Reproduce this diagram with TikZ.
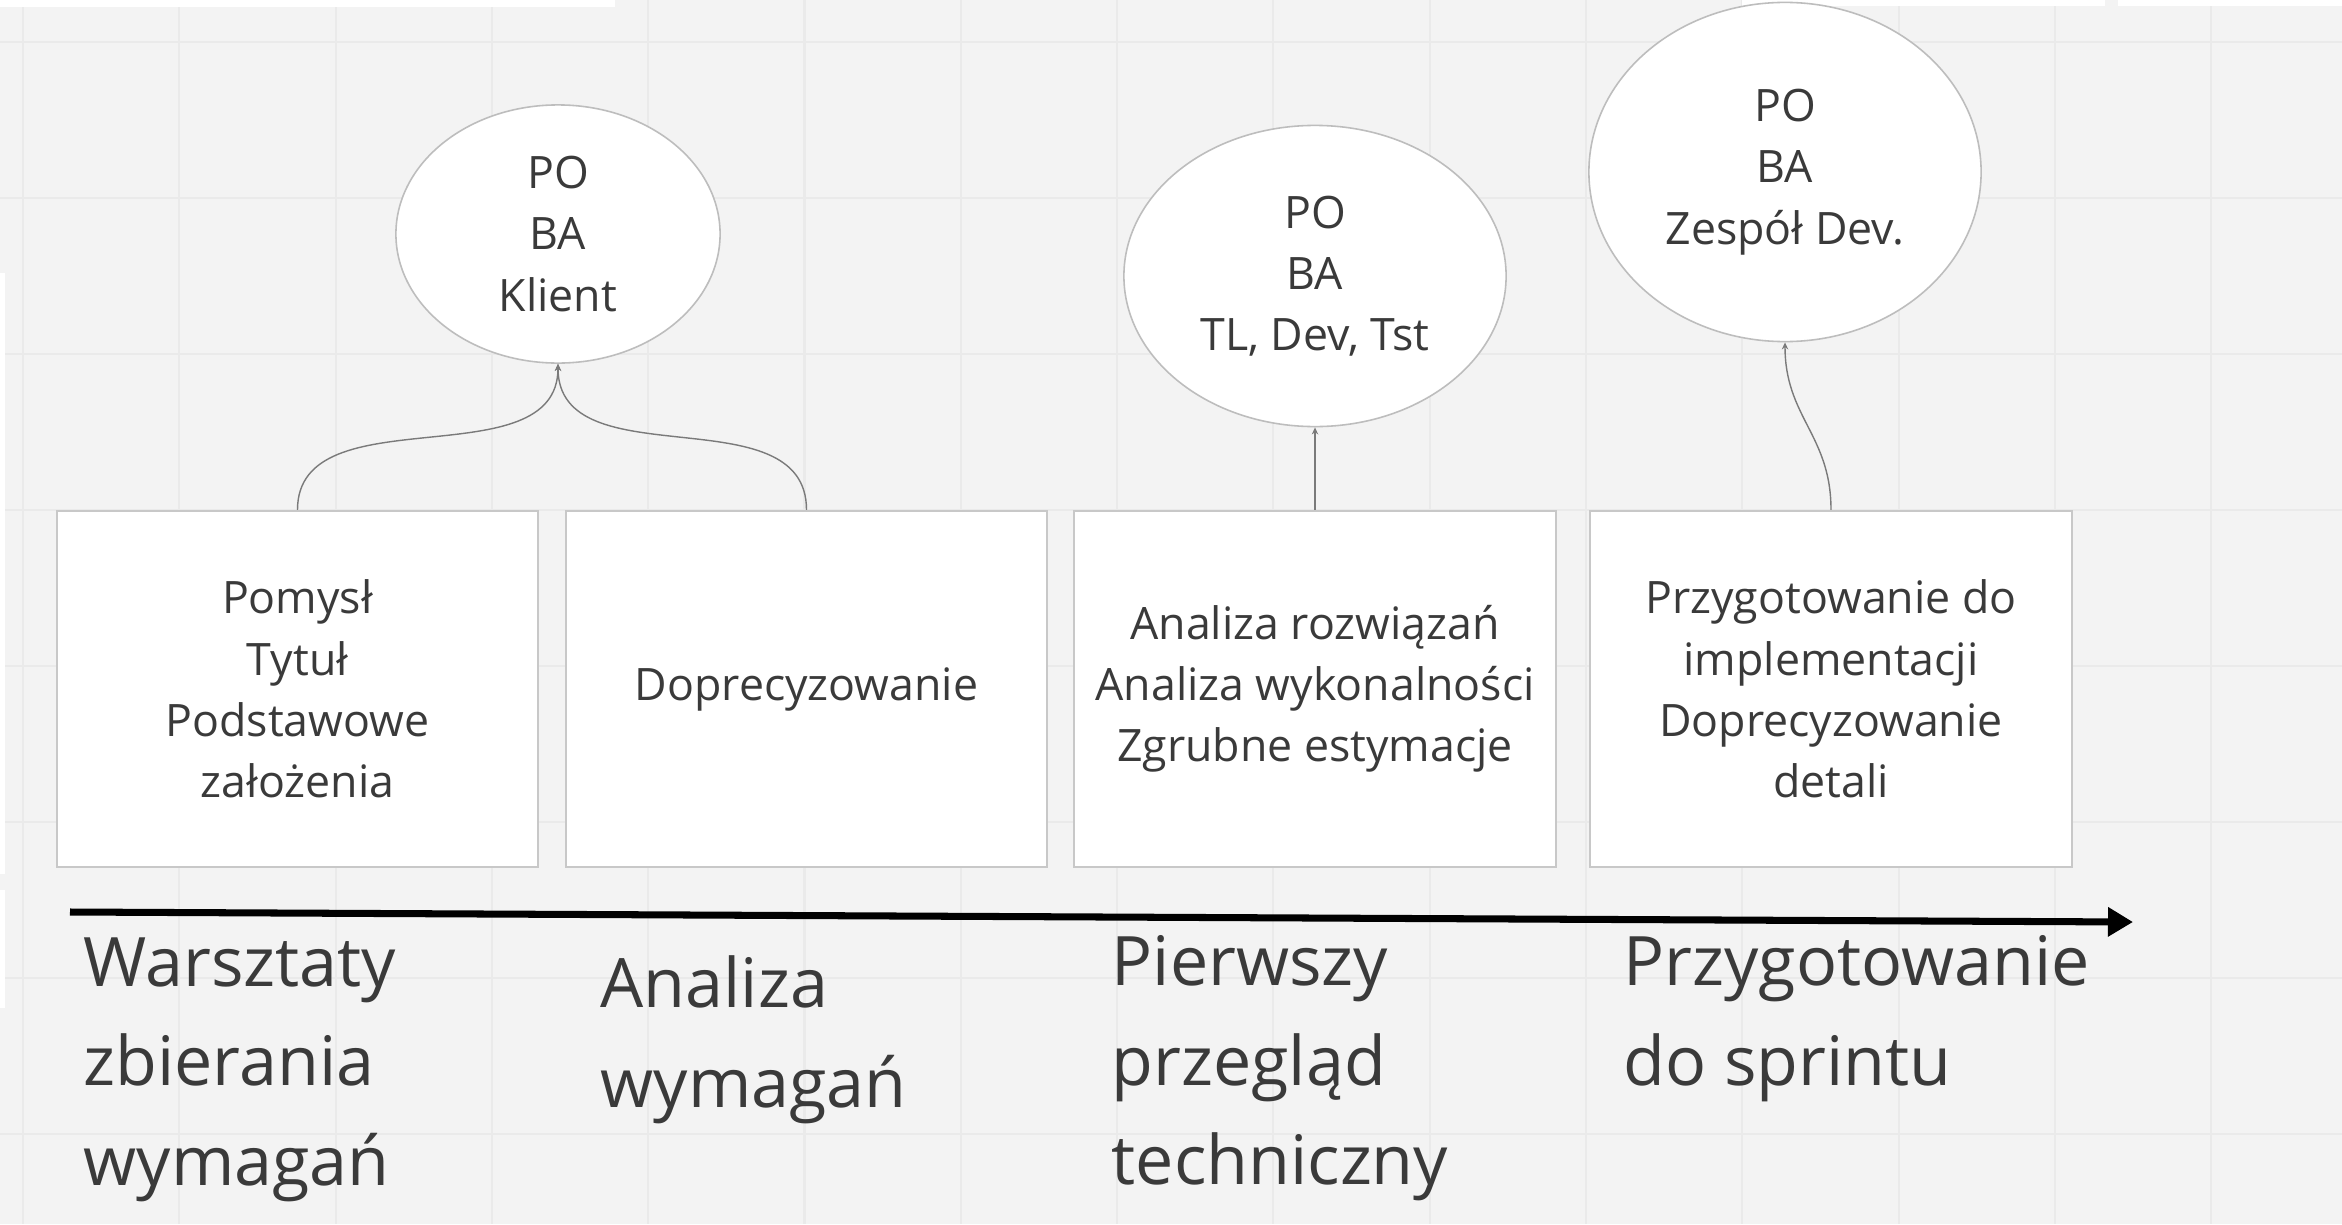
\documentclass[tikz,border=0pt]{standalone}
\usepackage{fontspec}
\setmainfont{Open Sans}
\usepackage{tikz}
\usetikzlibrary{shapes.geometric,arrows.meta,positioning}

\definecolor{bgcol}{HTML}{F3F3F3}
\definecolor{gridcol}{HTML}{EAEAEA}
\definecolor{boxcol}{HTML}{C8C8C8}
\definecolor{ellcol}{HTML}{BDBDBD}
\definecolor{txtcol}{HTML}{3A3A3A}
\definecolor{linkcol}{HTML}{7A7A7A}

\begin{document}
\begin{tikzpicture}[x=0.01cm,y=-0.01cm,
		box/.style={draw=boxcol,line width=0.6pt,fill=white,inner sep=0pt,
			minimum width=4.81cm,minimum height=3.56cm,align=center,text=txtcol,
			font=\fontsize{12.7}{17.4}\selectfont},
		who/.style={ellipse,draw=ellcol,line width=0.45pt,fill=white,inner sep=0pt,
			align=center,text=txtcol,font=\fontsize{12.7}{17.4}\selectfont},
		stage/.style={anchor=north west,inner sep=0pt,align=left,text=txtcol,
			font=\fontsize{19.4}{28.3}\selectfont},
		link/.style={draw=linkcol,line width=0.4pt,-{Stealth[length=2pt,width=1.8pt]}}]
			
			\useasboundingbox (0,0) rectangle (2342,1224);
			\fill[bgcol] (0,0) rectangle (2342,1224);
			\foreach \i in {0,...,14}
				\draw[gridcol,line width=0.6pt] ({23+156.3*\i},0) -- ({23+156.3*\i},1224);
			\foreach \j in {0,...,7}
				\draw[gridcol,line width=0.6pt] (0,{42+156*\j}) -- (2342,{42+156*\j});
			
			\fill[white] (0,0) rectangle (615,7);
			\fill[white] (1742,0) rectangle (2105,6);
			\fill[white] (2118,0) rectangle (2342,6);
			\fill[white] (0,273) rectangle (5,874);
			\fill[white] (0,890) rectangle (5,1008);
			
			\node[box] (B1) at (297.5,689) {Pomysł\\Tytuł\\Podstawowe\\założenia};
			\node[box] (B2) at (806.5,689) {Doprecyzowanie};
			\node[box] (B3) at (1315,689) {Analiza rozwiązań\\Analiza wykonalności\\Zgrubne estymacje};
			\node[box] (B4) at (1831,689) {Przygotowanie do\\implementacji\\Doprecyzowanie\\detali};
			
			\node[who,minimum width=3.24cm,minimum height=2.58cm] (E1) at (558,234) {PO\\BA\\Klient};
			\node[who,minimum width=3.82cm,minimum height=3.01cm] (E2) at (1315,276) {PO\\BA\\TL, Dev, Tst};
			\node[who,minimum width=3.92cm,minimum height=3.39cm] (E3) at (1785,172) {PO\\BA\\Zespół Dev.};
			
			\draw[link] (B1.north) .. controls +(0,-117) and +(0,117) .. (E1.south);
			\draw[link] (B2.north) .. controls +(0,-117) and +(0,117) .. (E1.south);
			\draw[link] (B3.north) -- (E2.south);
			\draw[link] (B4.north) .. controls +(0,-75) and +(0,75) .. (E3.south);
			
			\coordinate (S) at (70,912);
			\coordinate (T) at (2133,922);
			\draw[line width=2pt,-{Triangle[length=0.25cm,width=0.28cm]}] (S) -- (T);
			
			\node[stage] (L1) at (83,937) {Warsztaty\\zbierania\\wymagań};
			\node[stage] (L2) at (600,955) {Analiza\\wymagań};
			\node[stage] (L3) at (1111,935) {Pierwszy\\przegląd\\techniczny};
			\node[stage] (L4) at (1623,935) {Przygotowanie\\do sprintu};
			
		\end{tikzpicture}
\end{document}
